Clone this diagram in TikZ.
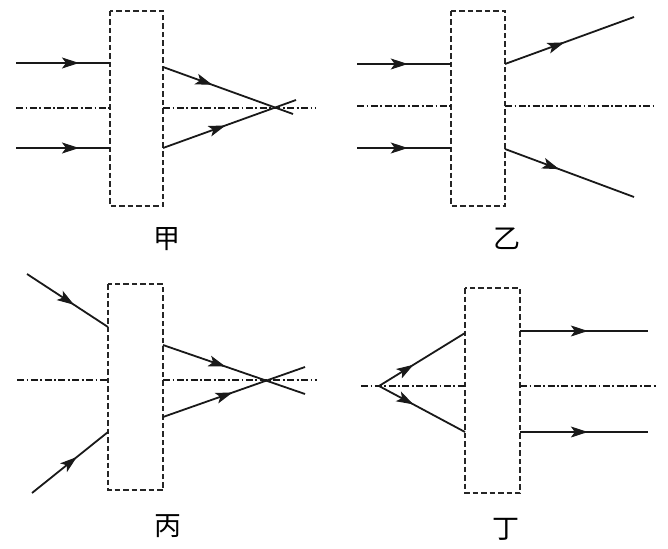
\documentclass[tikz,border=0pt]{standalone}
\usepackage{fontspec}
\newfontfamily\cjk{Noto Sans CJK SC}
\usetikzlibrary{arrows.meta,decorations.markings}
\tikzset{
  lensbox/.style={draw=black!85, line width=1.3pt, dash pattern=on 5.5pt off 3pt},
  axisline/.style={draw=black!90, line width=1.2pt, dash pattern=on 7pt off 2.5pt on 1.8pt off 2.5pt},
  ray/.style={draw=black!90, line width=1.8pt, postaction={decorate},
    decoration={markings, mark=at position #1 with {\arrow[line width=1pt]{Stealth[length=17pt,width=11pt,inset=4pt]}}}},
  lbl/.style={font=\cjk\fontsize{27}{27}\selectfont, inner sep=0pt}
}
\begin{document}
\begin{tikzpicture}[x=1pt,y=-1pt]
\useasboundingbox (0,0) rectangle (668,548);
\fill[white] (0,0) rectangle (668,548);

% ---------- Panel 甲 ----------
\coordinate (aTL) at (110,11); \coordinate (aBR) at (163,206);
\draw[lensbox] (aTL) rectangle (aBR);
\coordinate (aL1s) at (16,63);  \coordinate (aL1e) at (110,63);
\coordinate (aL2s) at (16,148); \coordinate (aL2e) at (110,148);
\coordinate (aAx1) at (16,108); \coordinate (aAx2) at (110,108);
\coordinate (aAx3) at (163,108); \coordinate (aAx4) at (315,108);
\coordinate (aR1s) at (163,67); \coordinate (aR1e) at (293,114);
\coordinate (aR2s) at (163,148); \coordinate (aR2e) at (296,100);
\draw[ray=0.67] (aL1s) -- (aL1e);
\draw[ray=0.67] (aL2s) -- (aL2e);
\draw[axisline] (aAx1) -- (aAx2);
\draw[axisline] (aAx3) -- (aAx4);
\draw[ray=0.38] (aR1s) -- (aR1e);
\draw[ray=0.47] (aR2s) -- (aR2e);
\node[lbl] (la) at (167,239) {甲};

% ---------- Panel 乙 ----------
\coordinate (bTL) at (451,11); \coordinate (bBR) at (505,206);
\draw[lensbox] (bTL) rectangle (bBR);
\coordinate (bL1s) at (357,64);  \coordinate (bL1e) at (451,64);
\coordinate (bL2s) at (357,148); \coordinate (bL2e) at (451,148);
\coordinate (bAx1) at (357,106); \coordinate (bAx2) at (451,106);
\coordinate (bAx3) at (505,106); \coordinate (bAx4) at (656,106);
\coordinate (bR1s) at (505,64); \coordinate (bR1e) at (634,17);
\coordinate (bR2s) at (505,149); \coordinate (bR2e) at (634,197);
\draw[ray=0.54] (bL1s) -- (bL1e);
\draw[ray=0.54] (bL2s) -- (bL2e);
\draw[axisline] (bAx1) -- (bAx2);
\draw[axisline] (bAx3) -- (bAx4);
\draw[ray=0.46] (bR1s) -- (bR1e);
\draw[ray=0.42] (bR2s) -- (bR2e);
\node[lbl] (lb) at (507,239) {乙};

% ---------- Panel 丙 ----------
\coordinate (cTL) at (108,284); \coordinate (cBR) at (163,490);
\draw[lensbox] (cTL) rectangle (cBR);
\coordinate (cI1s) at (27,274); \coordinate (cI1e) at (108,327);
\coordinate (cI2s) at (32,493); \coordinate (cI2e) at (108,432);
\coordinate (cAx1) at (17,380); \coordinate (cAx2) at (108,380);
\coordinate (cAx3) at (163,380); \coordinate (cAx4) at (317,380);
\coordinate (cR1s) at (163,345); \coordinate (cR1e) at (305,394);
\coordinate (cR2s) at (163,417); \coordinate (cR2e) at (305,367);
\draw[ray=0.58] (cI1s) -- (cI1e);
\draw[ray=0.59] (cI2s) -- (cI2e);
\draw[axisline] (cAx1) -- (cAx2);
\draw[axisline] (cAx3) -- (cAx4);
\draw[ray=0.44] (cR1s) -- (cR1e);
\draw[ray=0.49] (cR2s) -- (cR2e);
\node[lbl] (lc) at (168,526) {丙};

% ---------- Panel 丁 ----------
\coordinate (dTL) at (465,288); \coordinate (dBR) at (520,493);
\draw[lensbox] (dTL) rectangle (dBR);
\coordinate (dF) at (379,386);
\coordinate (dU) at (465,333); \coordinate (dD) at (465,432);
\coordinate (dAx1) at (361,386); \coordinate (dAx2) at (465,386);
\coordinate (dAx3) at (520,386); \coordinate (dAx4) at (656,386);
\coordinate (dR1s) at (520,331); \coordinate (dR1e) at (648,331);
\coordinate (dR2s) at (520,432); \coordinate (dR2e) at (648,432);
\draw[axisline] (dAx1) -- (dAx2);
\draw[axisline] (dAx3) -- (dAx4);
\draw[ray=0.4] (dF) -- (dU);
\draw[ray=0.4] (dF) -- (dD);
\draw[ray=0.53] (dR1s) -- (dR1e);
\draw[ray=0.53] (dR2s) -- (dR2e);
\node[lbl] (ld) at (506,529) {丁};
\end{tikzpicture}
\end{document}
